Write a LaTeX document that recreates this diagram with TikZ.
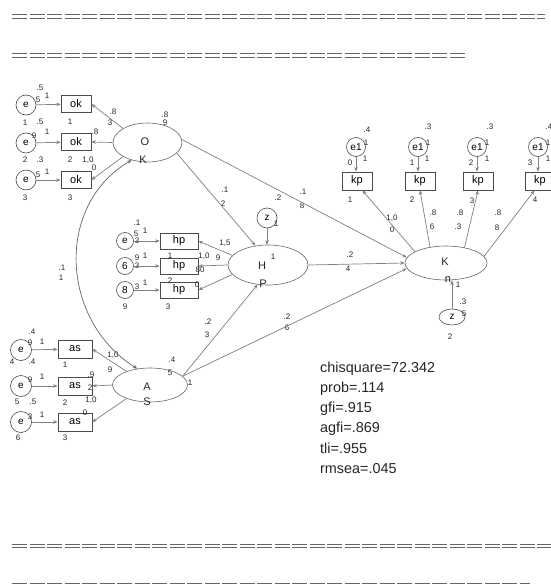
\documentclass[tikz,border=0pt]{standalone}
\usepackage{fontspec}
\setmainfont{Liberation Sans}
\usetikzlibrary{shapes.geometric,arrows.meta}
\newcounter{lbc}
\newcommand\lb[3]{\stepcounter{lbc}\node[lbl] (lb\arabic{lbc}) at (#1,#2) {#3};}
\tikzset{
 errc/.style={circle,draw=black!70,line width=0.6pt,minimum size=20pt,inner sep=0pt,font=\fontsize{10}{10}\selectfont},
 obsbox/.style={rectangle,draw=black!70,line width=0.6pt,minimum width=30pt,minimum height=17pt,inner sep=0pt,font=\fontsize{11}{11}\selectfont},
 latent/.style={ellipse,draw=black!60,line width=0.6pt,inner sep=0pt},
 lbl/.style={inner sep=0pt,font=\fontsize{8}{8}\selectfont,text=black!85},
 latlbl/.style={inner sep=0pt,font=\fontsize{11}{11}\selectfont,text=black!85},
 pth/.style={draw=black!50,line width=0.7pt,-{Stealth[length=4.5pt,width=3.5pt]}},
 rulel/.style={draw=black!60,line width=1.2pt,dash pattern=on 15pt off 2.5pt},
 stat/.style={anchor=base west,inner sep=0pt,font=\fontsize{14.4}{14.4}\selectfont,text=black!85}
}
\begin{document}
\begin{tikzpicture}[x=1pt,y=-1pt]
\useasboundingbox[fill=white] (0,0) rectangle (551,586);
% rules
\draw[rulel] (12,14.8) -- (545,14.8); \draw[rulel] (12,18.2) -- (545,18.2);
\draw[rulel] (12,53.8) -- (467,53.8); \draw[rulel] (12,57.2) -- (467,57.2);
\draw[rulel] (12,544.3) -- (551,544.3); \draw[rulel] (12,547.7) -- (551,547.7);
\draw[rulel] (12,583.3) -- (530,583.3); \draw[rulel] (12,586.7) -- (530,586.7);

% ---- OK group
\node[errc] (E1) at (26,105) {e};
\node[errc] (E2) at (26,143) {e};
\node[errc] (E3) at (26,180) {e};
\node[obsbox] (OK1) at (76,104) {ok};
\node[obsbox] (OK2) at (76,142) {ok};
\node[obsbox] (OK3) at (76,180) {ok};
\node[latent,minimum width=69pt,minimum height=39pt] (OK) at (147.5,142.5) {};
\node[latlbl] (OKa) at (145,142) {O};
\node[latlbl] (OKb) at (143,160) {K};
\lb{40}{88}{.5}\lb{38}{100}{5}\lb{47}{96}{1}\lb{25}{123}{1}\lb{40}{122}{.5}
\lb{34}{136}{9}\lb{47}{132}{1}\lb{25}{160}{2}\lb{40}{160}{.3}
\lb{38}{175}{5}\lb{47}{172}{1}\lb{25}{198}{3}
\lb{70}{122}{1}\lb{70}{160}{2}\lb{70}{198}{3}
\lb{113}{112}{.8}\lb{110}{123}{3}\lb{95}{132}{.8}\lb{88}{160}{1,0}\lb{94}{168}{0}
\lb{165}{115}{.8}\lb{165}{123}{9}
\lb{62}{268}{.1}\lb{61}{278}{1}

% ---- HP group
\node[errc,minimum size=17pt] (C1) at (125,241) {e};
\node[errc,minimum size=17pt] (C2) at (125,266) {6};
\node[errc,minimum size=17pt] (C3) at (125,290) {8};
\node[obsbox,minimum width=38pt,minimum height=16pt] (HP1) at (179,241) {hp};
\node[obsbox,minimum width=38pt,minimum height=16pt] (HP2) at (179,266) {hp};
\node[obsbox,minimum width=38pt,minimum height=16pt] (HP3) at (179,290) {hp};
\node[latent,minimum width=80pt,minimum height=40pt] (H) at (268,265) {};
\node[latlbl] (Ha) at (262,266) {H};
\node[latlbl] (Hb) at (263,284) {P};
\node[errc] (ZH) at (267,218) {z};
\lb{137}{223}{.1}\lb{136}{234}{5}\lb{145}{231}{1}\lb{137}{241}{3}
\lb{137}{258}{9}\lb{145}{256}{1}\lb{137}{266}{3}
\lb{137}{287}{3}\lb{145}{283}{1}\lb{125}{307}{9}
\lb{170}{256}{1}\lb{170}{281}{2}\lb{168}{307}{3}
\lb{225}{243}{1,5}\lb{218}{258}{9}\lb{204}{256}{1,0}\lb{200}{270}{80}\lb{197}{285}{0}
\lb{276}{224}{1}\lb{273}{257}{1}
\lb{225}{190}{.1}\lb{223}{204}{2}
\lb{278}{198}{.2}\lb{303}{192}{.1}\lb{302}{206}{8}
\lb{350}{255}{.2}\lb{348}{269}{4}
\lb{208}{322}{.2}\lb{207}{335}{3}
\lb{287}{317}{.2}\lb{287}{328}{6}

% ---- K group
\node[latent,minimum width=82pt,minimum height=34pt] (K) at (446,263) {};
\node[latlbl] (Ka) at (445,262) {K};
\node[latlbl] (Kb) at (448,280) {n};
\node[ellipse,draw=black!70,line width=0.6pt,minimum width=26pt,minimum height=16pt,inner sep=0pt,font=\fontsize{10}{10}\selectfont] (ZK) at (452,317) {z};
\lb{458}{285}{1}\lb{463}{302}{.3}\lb{464}{314}{5}\lb{450}{337}{2}
\node[obsbox,minimum height=18pt] (KP1) at (357,181) {kp};
\node[obsbox,minimum height=18pt] (KP2) at (420,181) {kp};
\node[obsbox,minimum height=18pt] (KP3) at (478,181) {kp};
\node[obsbox,minimum height=18pt] (KP4) at (540,181) {kp};
\node[errc,minimum size=19pt] (EK1) at (356,147) {e1};
\node[errc,minimum size=19pt] (EK2) at (418,147) {e1};
\node[errc,minimum size=19pt] (EK3) at (477,147) {e1};
\node[errc,minimum size=19pt] (EK4) at (538,147) {e1};
\lb{367}{130}{.4}\lb{428}{127}{.3}\lb{490}{127}{.3}\lb{549}{127}{.4}
\lb{366}{143}{1}\lb{428}{143}{1}\lb{487}{143}{1}\lb{548}{143}{1}
\lb{350}{163}{0}\lb{412}{163}{1}\lb{471}{163}{2}\lb{530}{163}{3}
\lb{365}{159}{1}\lb{427}{159}{1}\lb{487}{159}{1}\lb{548}{159}{1}
\lb{350}{200}{1}\lb{412}{200}{2}\lb{472}{201}{3}\lb{535}{200}{4}
\lb{392}{218}{1,0}\lb{392}{230}{0}\lb{433}{213}{.8}\lb{432}{227}{6}
\lb{460}{213}{.8}\lb{458}{227}{.3}\lb{498}{213}{.8}\lb{497}{228}{8}

% ---- AS group
\node[errc,minimum size=21pt] (A1) at (21,350) {e};
\node[errc,minimum size=21pt] (A2) at (21,386) {e};
\node[errc,minimum size=21pt] (A3) at (21,422) {e};
\node[obsbox,minimum width=34pt,minimum height=18pt] (AS1) at (75,349) {as};
\node[obsbox,minimum width=34pt,minimum height=18pt] (AS2) at (75,386) {as};
\node[obsbox,minimum width=34pt,minimum height=18pt] (AS3) at (75,422) {as};
\node[latent,minimum width=75pt,minimum height=34pt] (AS) at (150,385) {};
\node[latlbl] (ASa) at (147,387) {A};
\node[latlbl] (ASb) at (147,402) {S};
\lb{32}{332}{.4}\lb{30}{343}{9}\lb{42}{342}{1}\lb{12}{362}{4}\lb{32}{362}{.4}
\lb{30}{380}{9}\lb{42}{377}{1}\lb{17}{402}{5}\lb{33}{402}{.5}
\lb{30}{417}{3}\lb{42}{415}{1}\lb{18}{438}{6}
\lb{65}{365}{1}\lb{65}{403}{2}\lb{65}{438}{3}
\lb{91}{375}{.9}\lb{90}{388}{2}\lb{91}{400}{1,0}\lb{85}{413}{0}
\lb{113}{355}{1,0}\lb{110}{370}{9}
\lb{172}{360}{.4}\lb{170}{373}{5}\lb{190}{383}{1}

% ---- connectors
\draw[pth] (E1) -- (OK1); \draw[pth] (E2) -- (OK2); \draw[pth] (E3) -- (OK3);
\draw[pth] (OK.150) -- (OK1.east); \draw[pth] (OK.west) -- (OK2.east); \draw[pth] (OK.210) -- (OK3.east);
\draw[pth] (C1) -- (HP1); \draw[pth] (C2) -- (HP2); \draw[pth] (C3) -- (HP3);
\draw[pth] (H.165) -- (HP1.east); \draw[pth] (H.west) -- (HP2.east); \draw[pth] (H.195) -- (HP3.east);
\draw[pth] (A1) -- (AS1); \draw[pth] (A2) -- (AS2); \draw[pth] (A3) -- (AS3);
\draw[pth] (AS.150) -- (AS1.east); \draw[pth] (AS.west) -- (AS2.east); \draw[pth] (AS.210) -- (AS3.east);
\draw[pth] (OK.-20) -- (H.123);
\draw[pth] (OK.5) -- (K.172);
\draw[pth] (H.east) -- (K.west);
\draw[pth] (AS.15) -- (H.242);
\draw[pth] (AS.15) -- (K.188);
\draw[pth] (ZH.south) -- (H.north -| ZH.south);
\draw[pth] (ZK.north) -- (K.south -| ZK.north);
\draw[pth] (EK1.south) -- (KP1.north -| EK1.south);
\draw[pth] (EK2.south) -- (KP2.north -| EK2.south);
\draw[pth] (EK3.south) -- (KP3.north -| EK3.south);
\draw[pth] (EK4.south) -- (KP4.north -| EK4.south);
\draw[pth] (K.160) -- (KP1.-60);
\draw[pth] (K.135) -- (KP2.south);
\draw[pth] (K.40) -- (KP3.south);
\draw[pth] (K.10) -- (KP4.-120);
\draw[draw=black!60,line width=0.7pt,{Stealth[length=4.5pt,width=3.5pt]}-{Stealth[length=4.5pt,width=3.5pt]}] (OK.228) .. controls (55,205) and (60,320) .. (AS.128);

% ---- fit statistics
\node[stat] (s1) at (320,372) {chisquare=72.342};
\node[stat] (s2) at (320,392) {prob=.114};
\node[stat] (s3) at (320,412.5) {gfi=.915};
\node[stat] (s4) at (320,432.5) {agfi=.869};
\node[stat] (s5) at (320,453) {tli=.955};
\node[stat] (s6) at (320,473) {rmsea=.045};
\end{tikzpicture}
\end{document}
